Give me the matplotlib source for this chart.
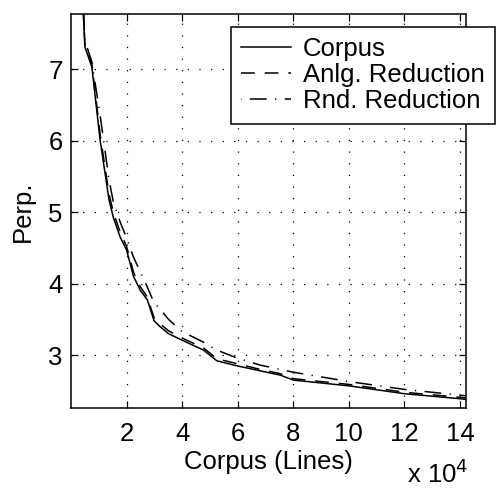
import numpy as np
import matplotlib.pyplot as plt
from matplotlib.ticker import FuncFormatter

plt.rcParams['font.family'] = ['Liberation Sans', 'DejaVu Sans']

# corpus size (lines) shared by the three curves
lines = [4400, 5000, 7500, 10500, 13700, 15200, 17700, 20000, 22500, 24900,
         27500, 29900, 32000, 35100, 39900, 47700, 52500, 59700, 68100, 75300,
         80100, 100000, 120000, 140000, 142200]

corpus = [7.80, 7.31, 7.03, 6.00, 5.17, 4.93, 4.65, 4.47, 4.10, 3.91,
          3.77, 3.48, 3.40, 3.30, 3.21, 3.07, 2.92, 2.85, 2.78, 2.72,
          2.65, 2.57, 2.46, 2.39, 2.38]
anlg = [7.85, 7.35, 7.08, 6.08, 5.25, 5.00, 4.72, 4.52, 4.16, 3.96,
        3.81, 3.52, 3.44, 3.34, 3.24, 3.10, 2.95, 2.88, 2.80, 2.74,
        2.67, 2.59, 2.48, 2.41, 2.40]
rnd = [7.90, 7.40, 7.10, 6.35, 5.45, 5.15, 4.86, 4.64, 4.37, 4.17,
       3.95, 3.73, 3.65, 3.50, 3.33, 3.18, 3.07, 2.96, 2.86, 2.80,
       2.76, 2.63, 2.52, 2.44, 2.43]

FS = 18.5

fig = plt.figure(figsize=(5.04, 4.88), dpi=100)
ax = fig.add_axes([71/504, 1-408/488, (466-71)/504, (408-14)/488])

ax.plot(lines, corpus, color='k', lw=1.1, ls='-', label='Corpus')
ax.plot(lines, anlg, color='k', lw=1.1, ls=(0, (9, 6.5)), label='Anlg. Reduction')
ax.plot(lines, rnd, color='k', lw=1.1, ls=(17, (11, 5.5, 0.8, 5.5)), label='Rnd. Reduction')

ax.set_xlim(0, 142200)
ax.set_ylim(2.26, 7.77)
ax.set_xticks(np.arange(2e4, 14.1e4, 2e4))
ax.set_yticks([3, 4, 5, 6, 7])
ax.xaxis.set_major_formatter(FuncFormatter(lambda v, p: '%d' % round(v / 1e4)))

ax.grid(True, color='k', ls=(0, (1, 8.3)), lw=0.9)
ax.tick_params(direction='in', length=5, width=0.9, top=True, right=True,
               labelsize=FS)
ax.tick_params(axis='x', pad=10)
ax.tick_params(axis='y', pad=6)
for s in ax.spines.values():
    s.set_linewidth(1.1)

ax.set_xlabel('Corpus (Lines)', fontsize=FS, labelpad=3)
ax.set_ylabel('Perp.', fontsize=FS, labelpad=10)
fig.text(407/504, 1-483/488, 'x 10$^4$', fontsize=FS, ha='left', va='baseline')

leg = ax.legend(loc='upper left', bbox_to_anchor=(231/504, 1-27/488),
                bbox_transform=fig.transFigure, borderaxespad=0,
                fancybox=False, framealpha=1, edgecolor='k', fontsize=FS,
                handlelength=1.95, handletextpad=0.45, labelspacing=0.08,
                borderpad=0.4)
leg.get_frame().set_linewidth(1.1)

fig.savefig('out.png', dpi=100)
